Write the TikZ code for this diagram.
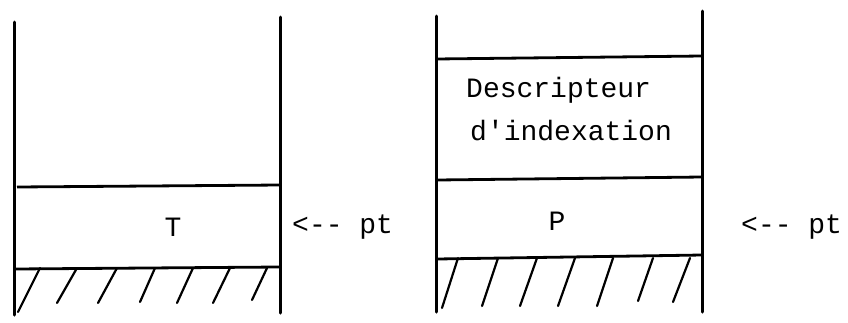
\documentclass[tikz,border=0pt]{standalone}
\usepackage{fontspec}
\setmonofont{Liberation Mono}
\begin{document}
\begin{tikzpicture}[x=1pt,y=-1pt,
  wall/.style={line width=3pt, line cap=round},
  rule/.style={line width=2.8pt},
  hatch/.style={line width=2.2pt, line cap=round},
  lbl/.style={font=\ttfamily\fontsize{28}{32}\selectfont, inner sep=0pt, anchor=base west},
  clbl/.style={font=\ttfamily\fontsize{28}{32}\selectfont, inner sep=0pt}]
\useasboundingbox (0,0) rectangle (848,322);
% left stack
\draw[wall] (14,22) -- (14,315);
\draw[wall] (280,17) -- (280,313);
\draw[rule] (17,187) -- (280,185);
\draw[rule] (15,269) -- (280,267);
\foreach \xt/\xb/\yb in {40/18/312,77/57/303,117/98/303,155/140/302,193/177/303,230/213/303,267/252/300}
  \draw[hatch] (\xt,268) -- (\xb,\yb);
\node[clbl] (T) at (173,227) {T};
\node[lbl] (pt1) at (292,233) {<-- pt};
% right stack
\draw[wall] (436,16) -- (436,312);
\draw[wall] (702,11) -- (702,312);
\draw[rule] (436,59) -- (702,56);
\draw[rule] (437,180) -- (702,177);
\draw[rule] (437,259) -- (702,255);
\foreach \xt/\xb/\yb in {458/442/308,498/482/306,537/520/306,575/558/306,613/597/306,653/638/301,690/673/302}
  \draw[hatch] (\xt,258) -- (\xb,\yb);
\node[lbl] (d1) at (466,97) {Descripteur};
\node[lbl] (d2) at (470,140) {d'indexation};
\node[clbl] (P) at (557,221) {P};
\node[lbl] (pt2) at (741,233) {<-- pt};
\end{tikzpicture}
\end{document}
